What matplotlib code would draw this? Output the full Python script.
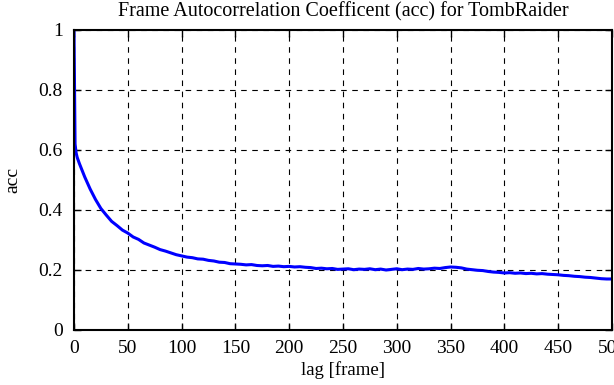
import matplotlib
matplotlib.use("Agg")
import matplotlib.pyplot as plt

plt.rcParams['font.family'] = ['Liberation Serif', 'DejaVu Serif']

lags = [0, 1, 2, 3] + list(range(5, 505, 5))
acc = [1.0, 0.62, 0.59, 0.575,
       0.555, 0.51, 0.47, 0.435, 0.405, 0.383, 0.362, 0.348, 0.333, 0.323,
       0.31, 0.302, 0.29, 0.283, 0.276, 0.268, 0.263, 0.257, 0.251, 0.247,
       0.243, 0.241, 0.237, 0.236, 0.232, 0.23, 0.226, 0.225, 0.221, 0.22,
       0.219, 0.217, 0.218, 0.215, 0.214, 0.215, 0.212, 0.213, 0.211, 0.212,
       0.21, 0.211, 0.209, 0.208, 0.205, 0.206, 0.204, 0.205, 0.202, 0.203,
       0.204, 0.201, 0.203, 0.202, 0.204, 0.201, 0.203, 0.2, 0.202, 0.204,
       0.201, 0.203, 0.202, 0.205, 0.203, 0.204, 0.206, 0.205, 0.208, 0.21,
       0.209, 0.207, 0.203, 0.201, 0.199, 0.198, 0.195, 0.193, 0.192, 0.19,
       0.191, 0.189, 0.19, 0.188, 0.189, 0.187, 0.188, 0.186, 0.185, 0.184,
       0.182, 0.181, 0.179, 0.178, 0.176, 0.175, 0.173, 0.171, 0.17, 0.17]

xticks = [0, 50, 100, 150, 200, 250, 300, 350, 400, 450, 500]
yticks = [0, 0.2, 0.4, 0.6, 0.8, 1.0]
ytick_labels = ['0', '0.2', '0.4', '0.6', '0.8', '1']

fig = plt.figure(figsize=(6.14, 3.85), dpi=100)
ax = fig.add_axes([0.1205, 0.1429, 0.8762, 0.7792])
ax.plot(lags, acc, color='#0000ff', linewidth=2.2)
ax.set_xlim(0, 500)
ax.set_ylim(0, 1)
ax.set_xticks(xticks)
ax.set_yticks(yticks)
ax.set_yticklabels(ytick_labels)
ax.tick_params(direction='in', top=True, right=True, length=5, width=1, labelsize=14, colors='black')
ax.tick_params(axis='x', pad=7)
ax.tick_params(axis='y', pad=8)
ax.grid(True, color='black', linestyle=(0, (5, 5)), linewidth=0.8)
for s in ax.spines.values():
    s.set_linewidth(1.5)
ax.set_title('Frame Autocorrelation Coefficent (acc) for TombRaider', fontsize=14.5, pad=9.5)
ax.set_xlabel('lag [frame]', fontsize=13.5, labelpad=3)
ax.set_ylabel('acc', fontsize=14, labelpad=12)
fig.savefig('out.png', dpi=100)
